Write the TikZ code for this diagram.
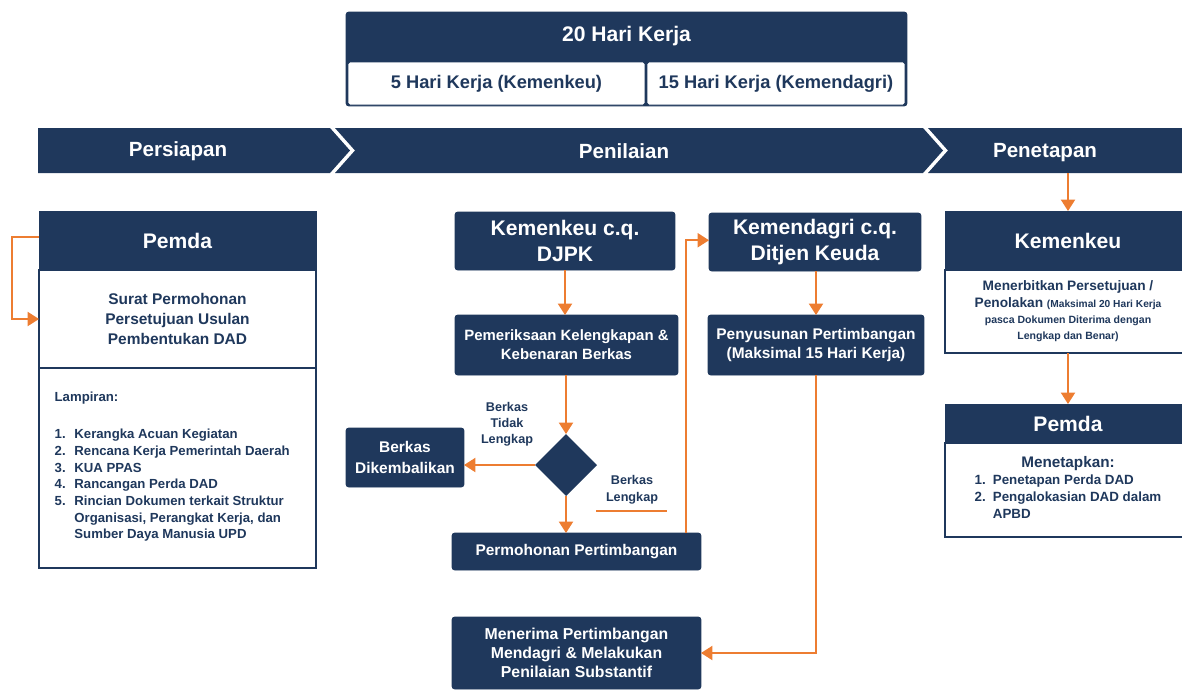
\documentclass[tikz,border=0pt]{standalone}
\usepackage{fontspec}
\setmainfont{Liberation Sans}
\usetikzlibrary{
    arrows.meta,
    calc,
    positioning,
    shapes.geometric
}
\definecolor{navy}{RGB}{31,56,92}
\definecolor{jingga}{RGB}{237,125,49}
\newlength{\pxl}
\setlength{\pxl}{0.2mm}
\newcommand{\fsz}[2]{\fontsize{#1}{#2}\selectfont}
\tikzset{
    every picture/.style = {
        > = {Triangle[width = 8pt, length = 6.5pt]}
    },
    every node/.style = {
        inner sep = 1pt,
        outer sep = 0pt,
        align = center,
        font = \bfseries
    },
    wh/.style 2 args = {
        minimum width = #1\pxl,
        minimum height = #2\pxl
    },
    darkbox/.style = {
        fill = navy,
        draw = navy,
        text = white,
        rounded corners = 1.5pt
    },
    lightbox/.style = {
        fill = white,
        draw = navy,
        line width = 0.9pt,
        text = navy
    },
    navytext/.style = {text = navy},
    bandtext/.style = {text = white, font = \fsz{11.7}{14}\bfseries},
    headtext/.style = {font = \fsz{12}{14.8}\bfseries},
    proctext/.style = {font = \fsz{8.8}{11}\bfseries},
    flow/.style = {
        ->,
        draw = jingga,
        line width = 1.1pt
    },
    band/.style = {fill = navy}
}

\begin{document}
\begin{tikzpicture}[x = 0.02cm, y = -0.02cm]
    \useasboundingbox (0, 0) rectangle (1182, 691);

    % 20 hari kerja
    \node[darkbox, wh = {561}{94}] (frame) at (626.5, 59) {};
    \node[text = white, headtext] (hari) at (626.5, 36) {20 Hari Kerja};
    \node[lightbox, line width = 0.5pt, rounded corners = 1pt, wh = {297}{43}, font = \fsz{10.4}{12}\bfseries] (lima) at (496.5, 83.5) {5 Hari Kerja (Kemenkeu)};
    \node[lightbox, line width = 0.5pt, rounded corners = 1pt, wh = {258}{43}, font = \fsz{10.4}{12}\bfseries] (limabelas) at (776, 83.5) {15 Hari Kerja (Kemendagri)};

    % tahapan
    \path[band] (38, 128) -- (330, 128) -- (350, 150.5) -- (330, 173) -- (38, 173) -- cycle;
    \path[band] (335, 128) -- (923, 128) -- (943, 150.5) -- (923, 173) -- (335, 173) -- (355, 150.5) -- cycle;
    \path[band] (928, 128) -- (1190, 128) -- (1190, 173) -- (928, 173) -- (948, 150.5) -- cycle;
    \node[bandtext] (persiapan) at (178, 151) {Persiapan};
    \node[bandtext] (penilaian) at (624, 151) {Penilaian};
    \node[bandtext] (penetapan) at (1045, 153) {Penetapan};
    \coordinate (tetap) at (1068, 173);

    % persiapan
    \node[darkbox, headtext, wh = {277}{59}, rounded corners = 0pt] (pemda) at (177.5, 240.5) {Pemda};
    \node[lightbox, wh = {277}{98}, font = \fsz{8.8}{11.4}\bfseries] (surat) at (177.5, 319) {Surat Permohonan\\ Persetujuan Usulan\\ Pembentukan DAD};
    \node[lightbox, wh = {277}{200}, line width = 1.2pt, align = left, font = \fsz{7.5}{9.5}\bfseries] (lampiran) at (177.5, 468) {%
        Lampiran:\\[12pt]
        \begin{tabular}{@{}l@{\hspace{5pt}}l@{\rule{6pt}{0pt}}}
            1. & Kerangka Acuan Kegiatan\\
            2. & Rencana Kerja Pemerintah Daerah\\
            3. & KUA PPAS\\
            4. & Rancangan Perda DAD\\
            5. & Rincian Dokumen terkait Struktur\\
               & Organisasi, Perangkat Kerja, dan\\
               & Sumber Daya Manusia UPD
        \end{tabular}};
    \draw[flow] ([yshift = 2pt]pemda.west) -- ++(-27, 0) |- (surat.west);

    % penilaian kemenkeu
    \node[darkbox, headtext, wh = {220}{58}] (djpk) at (565, 241) {Kemenkeu c.q.\\ DJPK};
    \node[darkbox, font = \fsz{8.5}{10.8}\bfseries, wh = {223}{60}] (periksa) at (566.5, 345) {Pemeriksaan Kelengkapan \&\\ Kebenaran Berkas};
    \node[diamond, fill = navy, inner sep = 0pt, wh = {62}{62}] (cek) at (566, 465) {};
    \node[darkbox, font = \fsz{8.8}{12}\bfseries, wh = {118}{59}] (balik) at (405, 457.5) {Berkas\\ Dikembalikan};
    \node[darkbox, proctext, wh = {249}{37}] (mohon) at (576.5, 551.5) {Permohonan Pertimbangan};
    \node[navytext, font = \fsz{7.2}{9}\bfseries] (tidak) at (507, 424) {Berkas\\ Tidak\\ Lengkap};
    \node[navytext, font = \fsz{7.2}{9.5}\bfseries] (lengkap) at (632, 490) {Berkas\\ Lengkap};
    \draw[jingga, line width = 0.8pt] ($(lengkap.south) + (-36, 5)$) -- ++(71, 0);

    \draw[flow] (djpk.south) -- (djpk.south |- periksa.north);
    \draw[flow] (cek.north |- periksa.south) -- (cek.north);
    \draw[flow] (cek.west) -- (cek.west -| balik.east);
    \draw[flow] (cek.south) -- (cek.south |- mohon.north);

    % penilaian kemendagri
    \node[darkbox, headtext, wh = {212}{58}] (dagri) at (815, 242) {Kemendagri c.q.\\ Ditjen Keuda};
    \node[darkbox, proctext, wh = {216}{60}] (susun) at (816, 345) {Penyusunan Pertimbangan\\ (Maksimal 15 Hari Kerja)};
    \node[darkbox, font = \fsz{9}{10.8}\bfseries, wh = {249}{72}] (terima) at (576.5, 653) {Menerima Pertimbangan\\ Mendagri \& Melakukan\\ Penilaian Substantif};

    \draw[flow] ($(mohon.north east) + (-15, 0)$) |- ([yshift = 1pt]dagri.west);
    \draw[flow] (dagri.south -| susun.south) -- (susun.north);
    \draw[flow] (susun.south) |- (terima.east);

    % penetapan
    \node[darkbox, headtext, wh = {246}{59}, rounded corners = 0pt] (kemenkeu) at (1068, 240.5) {Kemenkeu};
    \node[lightbox, wh = {246}{83}, font = \fsz{7.8}{9.3}\bfseries] (terbit) at (1068, 311.5) {%
        Menerbitkan Persetujuan /\\
        Penolakan {\fsz{5.8}{9.3}(Maksimal 20 Hari Kerja}\\
        {\fsz{6}{9.3}pasca Dokumen Diterima dengan}\\
        {\fsz{6}{9.3}Lengkap dan Benar)}};
    \node[darkbox, headtext, wh = {246}{39}, rounded corners = 0pt] (pemdab) at (1068, 423.5) {Pemda};
    \node[lightbox, wh = {246}{94}, font = \fsz{8.7}{10}\bfseries] (tetapkan) at (1068, 490) {%
        Menetapkan:\\
        {\fsz{7.6}{9.7}\begin{tabular}{@{}l@{\hspace{4pt}}l@{}}
            1. & Penetapan Perda DAD\\
            2. & Pengalokasian DAD dalam\\
               & APBD
        \end{tabular}}};

    \draw[flow] (tetap) -- (kemenkeu.north);
    \draw[flow] (terbit.south) -- (pemdab.north);
\end{tikzpicture}
\end{document}
